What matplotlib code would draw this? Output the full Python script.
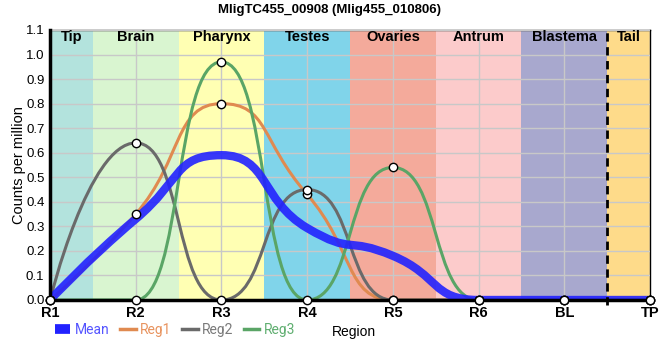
import numpy as np
import matplotlib
matplotlib.use('Agg')
import matplotlib.pyplot as plt
from matplotlib.path import Path
from matplotlib.patches import PathPatch
from matplotlib.lines import Line2D

# Data
regions = ['R1', 'R2', 'R3', 'R4', 'R5', 'R6', 'BL', 'TP']
reg1 = [0.0, 0.35, 0.80, 0.43, 0.0, 0.0, 0.0, 0.0]
reg2 = [0.0, 0.64, 0.0, 0.45, 0.0, 0.0, 0.0, 0.0]
reg3 = [0.0, 0.0, 0.97, 0.0, 0.54, 0.0, 0.0, 0.0]
mean = list(np.mean([reg1, reg2, reg3], axis=0))

# Tissue bands (edges in region index units)
band_names = ['Tip', 'Brain', 'Pharynx', 'Testes', 'Ovaries', 'Antrum', 'Blastema', 'Tail']
band_edges = [0, 0.5, 1.5, 2.5, 3.5, 4.5, 5.5, 6.5, 7]
band_colors = ['#b3e3dd', '#d9f5d0', '#ffffb3', '#80d4ea', '#f4aa9b', '#fccbcb', '#a8a8ce', '#fedb8a']

plt.rcParams['font.family'] = ['Liberation Sans', 'DejaVu Sans']


def spline_path(x, y, reach=0.55):
    """Bezier spline through the points; tangents are flattened at peaks and troughs."""
    n = len(x)
    left = [None] * n
    right = [None] * n
    for i in range(1, n - 1):
        slope = (y[i + 1] - y[i - 1]) / (x[i + 1] - x[i - 1])
        lx = x[i] - reach * (x[i] - x[i - 1])
        rx = x[i] + reach * (x[i + 1] - x[i])
        ly = y[i] - slope * (x[i] - lx)
        ry = y[i] + slope * (rx - x[i])
        if ly > y[i - 1] and ly > y[i]:
            ly = max(y[i - 1], y[i]); ry = 2 * y[i] - ly
        elif ly < y[i - 1] and ly < y[i]:
            ly = min(y[i - 1], y[i]); ry = 2 * y[i] - ly
        if ry > y[i + 1] and ry > y[i]:
            ry = max(y[i + 1], y[i]); ly = 2 * y[i] - ry
        elif ry < y[i + 1] and ry < y[i]:
            ry = min(y[i + 1], y[i]); ly = 2 * y[i] - ry
        left[i] = (lx, ly)
        right[i] = (rx, ry)
    verts = [(x[0], y[0])]
    codes = [Path.MOVETO]
    for i in range(1, n):
        c1 = right[i - 1] or (x[i - 1], y[i - 1])
        c2 = left[i] or (x[i], y[i])
        verts += [c1, c2, (x[i], y[i])]
        codes += [Path.CURVE4] * 3
    return Path(verts, codes)


fig = plt.figure(figsize=(6.6, 3.6), dpi=100)
ax = fig.add_axes([50 / 660, 60 / 360, 600 / 660, 270 / 360])

xi = np.arange(len(regions))

for i, name in enumerate(band_names):
    ax.axvspan(band_edges[i], band_edges[i + 1], color=band_colors[i], zorder=0, lw=0)
    ax.text((band_edges[i] + band_edges[i + 1]) / 2, 1.073, name, ha='center', va='center',
            fontsize=10.5, fontweight='bold', zorder=3)

ax.grid(True, color='#c8c8c8', lw=1, zorder=1)
ax.set_axisbelow(False)

series = [('Reg1', reg1, '#e08a50'), ('Reg2', reg2, '#6a6a6a'), ('Reg3', reg3, '#5aa566')]
ax.add_patch(PathPatch(spline_path(xi, mean), fill=False, ec='#2222ff', lw=6, alpha=0.9,
                       zorder=4, capstyle='butt'))
for name, vals, col in series:
    ax.add_patch(PathPatch(spline_path(xi, vals), fill=False, ec=col, lw=2.2, zorder=3))
for name, vals, col in series:
    ax.plot(xi, vals, ls='none', marker='o', ms=6, mfc='white', mec='black', mew=1, zorder=6,
            clip_on=False)

ax.axvline(6.5, color='black', ls=(0, (3, 2)), lw=2, zorder=5, ymin=-0.02, clip_on=False)

ax.set_xlim(0, 7)
ax.set_ylim(0, 1.1)
ax.set_xticks(xi)
ax.set_xticklabels(regions, fontsize=10.5, fontweight='bold')
ax.set_yticks(np.arange(0, 1.11, 0.1))
ax.set_yticklabels([f'{v:.1f}' for v in np.arange(0, 1.11, 0.1)], fontsize=9.5)
ax.tick_params(axis='y', length=0, pad=4)
ax.tick_params(axis='x', length=4, width=1, direction='inout', pad=2)
ax.set_ylabel('Counts per million', fontsize=10.5, labelpad=0)

for side in ['left', 'bottom']:
    ax.spines[side].set_linewidth(2.5)
    ax.spines[side].set_zorder(5)
for side in ['top', 'right']:
    ax.spines[side].set_linewidth(1)

fig.text(330 / 660, 1 - 10 / 360, 'MligTC455_00908 (Mlig455_010806)', ha='center', va='center',
         fontsize=9.5, fontweight='bold')

handles = [Line2D([], [], color='#2222ff', lw=7, solid_capstyle='butt')]
handles += [Line2D([], [], color=col, lw=2.5) for _, _, col in series]
labels = ['Mean'] + [name for name, _, _ in series]
leg = fig.legend(handles, labels, loc='center left', bbox_to_anchor=(55 / 660, 1 - 330 / 360),
                 ncol=4, frameon=False, prop={'family': 'Roboto', 'size': 10},
                 handlelength=1.1, handletextpad=0.3, columnspacing=0.8, borderpad=0,
                 borderaxespad=0)
for txt, c in zip(leg.get_texts(), ['#5555ff', '#e8935e', '#7a7a7a', '#5fae70']):
    txt.set_color(c)
fig.text(332 / 660, 1 - 332 / 360, 'Region', ha='left', va='center', fontsize=10)

fig.savefig('out.png', dpi=100)
